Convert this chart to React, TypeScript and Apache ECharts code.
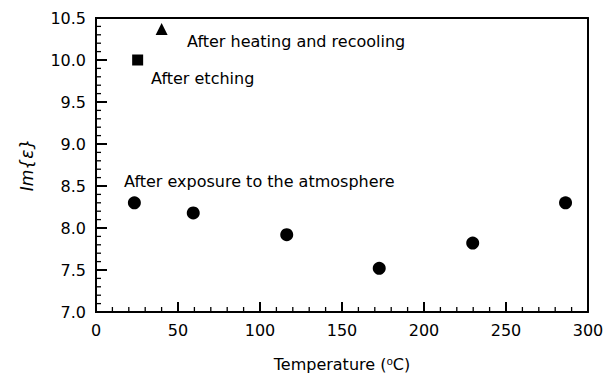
import React, { useEffect, useRef } from "react";
import * as echarts from "echarts";

const exposureX = [23.4, 59.3, 116.3, 172.7, 229.7, 286.3];
const exposureY = [8.3, 8.18, 7.92, 7.52, 7.82, 8.3];
const etchingX = [25.4];
const etchingY = [10.0];
const heatingX = [40];
const heatingY = [10.37];
const xTicks = [0, 50, 100, 150, 200, 250, 300];
const yTicks = [7.0, 7.5, 8.0, 8.5, 9.0, 9.5, 10.0, 10.5];
const minorPerMajor = 5;

function tickList(ticks: number[]) {
  const out: number[][] = [];
  for (let i = 0; i < ticks.length; i++) {
    out.push([ticks[i], 1]);
    if (i < ticks.length - 1) {
      const step = (ticks[i + 1] - ticks[i]) / minorPerMajor;
      for (let k = 1; k < minorPerMajor; k++) out.push([ticks[i] + step * k, 0]);
    }
  }
  return out;
}

export default function App() {
  const ref = useRef<HTMLDivElement>(null);
  useEffect(() => {
    if (!ref.current) return;
    const chart = echarts.init(ref.current, null, { renderer: "svg" });
    const font = "'DejaVu Sans', sans-serif";
    const xMin = xTicks[0];
    const xMax = xTicks[xTicks.length - 1];
    const yMin = yTicks[0];
    const yMax = yTicks[yTicks.length - 1];
    const axisLine = { show: true, onZero: false, lineStyle: { color: "#000", width: 2 } };
    const xBase = { type: "value", min: xMin, max: xMax, interval: 50 };
    const yBase = { type: "value", min: yMin, max: yMax, interval: 0.5 };
    const borderAxis = {
      axisLine, axisTick: { show: false }, minorTick: { show: false },
      axisLabel: { show: false }, splitLine: { show: false },
    };
    const tickStyle = (major: boolean) => ({ stroke: "#000", lineWidth: major ? 2 : 1.3 });
    chart.setOption({
      animation: false,
      backgroundColor: "#fff",
      grid: { left: 96, right: 25, top: 18, bottom: 72, show: false },
      xAxis: [
        {
          ...xBase,
          position: "bottom",
          name: "Temperature (\u2070C)",
          nameLocation: "middle",
          nameGap: 44,
          nameTextStyle: { fontFamily: font, fontSize: 16, color: "#000" },
          axisLine,
          axisTick: { show: false },
          minorTick: { show: false },
          splitLine: { show: false },
          axisLabel: { fontFamily: font, fontSize: 16, color: "#000", margin: 10 },
        },
        { ...xBase, position: "top", ...borderAxis },
      ],
      yAxis: [
        {
          ...yBase,
          position: "left",
          axisLine,
          axisTick: { show: false },
          minorTick: { show: false },
          splitLine: { show: false },
          axisLabel: {
            fontFamily: font, fontSize: 16, color: "#000", margin: 10,
            formatter: (v: number) => v.toFixed(1),
          },
        },
        { ...yBase, position: "right", ...borderAxis },
      ],
      graphic: [
        {
          type: "text", x: 27, y: 165, rotation: Math.PI / 2,
          style: { text: "Im{\u03b5}", font: `italic 17px ${font}`, fill: "#000", textAlign: "center", textVerticalAlign: "middle" },
        },
        {
          type: "text", x: 187, y: 41,
          style: { text: "After heating and recooling", font: `16px ${font}`, fill: "#000", textVerticalAlign: "middle" },
        },
        {
          type: "text", x: 151, y: 78,
          style: { text: "After etching", font: `16px ${font}`, fill: "#000", textVerticalAlign: "middle" },
        },
        {
          type: "text", x: 124, y: 181,
          style: { text: "After exposure to the atmosphere", font: `16px ${font}`, fill: "#000", textVerticalAlign: "middle" },
        },
      ],
      series: [
        {
          type: "custom",
          silent: true,
          encode: { x: 0 },
          data: tickList(xTicks),
          renderItem: (params: any, api: any) => {
            const v = api.value(0);
            const major = api.value(1) === 1;
            const p = api.coord([v, yMin]);
            const len = major ? 10 : 5;
            return { type: "line", shape: { x1: p[0], y1: p[1], x2: p[0], y2: p[1] - len }, style: tickStyle(major) };
          },
        },
        {
          type: "custom",
          silent: true,
          encode: { y: 0 },
          data: tickList(yTicks),
          renderItem: (params: any, api: any) => {
            const v = api.value(0);
            const major = api.value(1) === 1;
            const p = api.coord([xMin, v]);
            const len = major ? 11 : 5;
            return { type: "line", shape: { x1: p[0] - 1, y1: p[1], x2: p[0] + len, y2: p[1] }, style: tickStyle(major) };
          },
        },
        {
          type: "scatter", symbol: "circle", symbolSize: 13,
          itemStyle: { color: "#000", opacity: 1 },
          data: exposureX.map((x, i) => [x, exposureY[i]]),
        },
        {
          type: "scatter", symbol: "rect", symbolSize: 11,
          itemStyle: { color: "#000", opacity: 1 },
          data: etchingX.map((x, i) => [x, etchingY[i]]),
        },
        {
          type: "scatter", symbol: "triangle", symbolSize: 12,
          itemStyle: { color: "#000", opacity: 1 },
          data: heatingX.map((x, i) => [x, heatingY[i]]),
        },
      ],
    });
    return () => chart.dispose();
  }, []);
  return <div ref={ref} style={{ width: 613, height: 384, position: "absolute", left: 0, top: 0 }} />;
}
